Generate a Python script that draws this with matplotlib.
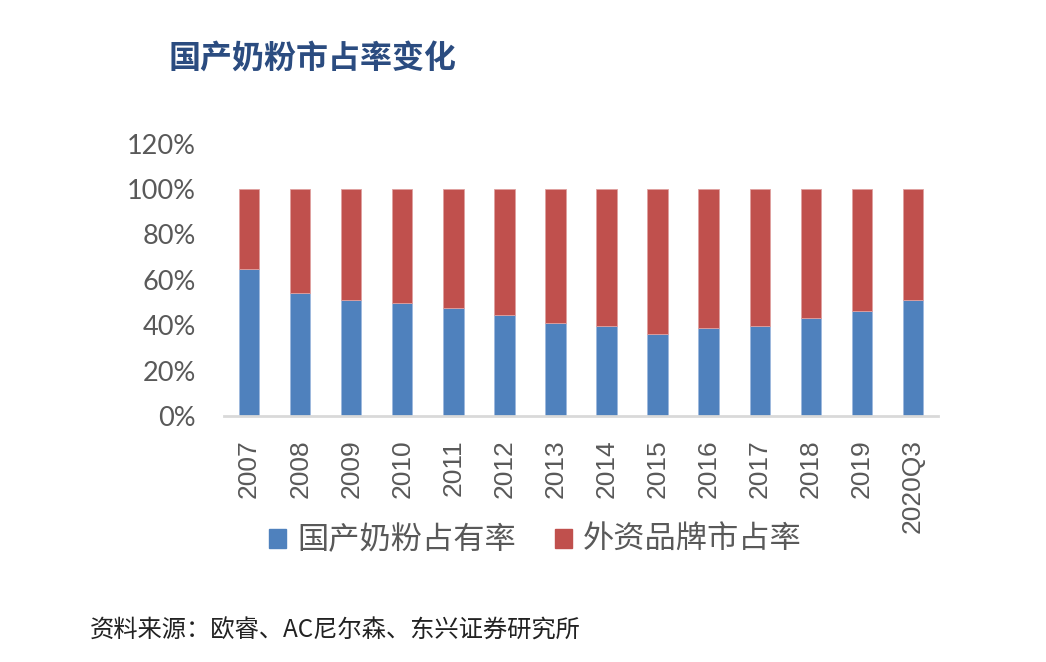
import numpy as np
import matplotlib.pyplot as plt
from matplotlib.patches import Patch

plt.rcParams['font.family'] = ['Noto Sans CJK SC', 'DejaVu Sans']

years = ["2007", "2008", "2009", "2010", "2011", "2012", "2013",
         "2014", "2015", "2016", "2017", "2018", "2019", "2020Q3"]
domestic = [64.6, 54.3, 51.0, 49.8, 47.6, 44.3, 40.8,
            39.5, 36.3, 38.6, 39.5, 43.0, 46.4, 51.0]
foreign = [100 - v for v in domestic]

blue = "#4F81BD"
red = "#C0504D"

fig = plt.figure(figsize=(10.46, 6.62), dpi=100)
ax = fig.add_axes([0.2137, 0.3716, 0.6835, 0.4115])

x = np.arange(len(years))
ax.bar(x, domestic, width=0.4, color=blue, edgecolor="#9DB9DD", linewidth=0.6)
ax.bar(x, foreign, width=0.4, bottom=domestic, color=red, edgecolor="#E0A0A0", linewidth=0.6)

ax.set_xlim(-0.5, len(years) - 0.5)
ax.set_ylim(0, 120)
ax.set_yticks(range(0, 121, 20))
ax.set_yticklabels([f"{v}%" for v in range(0, 121, 20)], fontfamily="Lato", fontsize=19.5)
ax.set_xticks(x)
ax.set_xticklabels(years, rotation=90, fontfamily="Liberation Sans", fontsize=19)
ax.tick_params(axis="both", length=0, colors="#595959")
ax.tick_params(axis="y", pad=20)
ax.tick_params(axis="x", pad=17)

for s in ["top", "right", "left"]:
    ax.spines[s].set_visible(False)
ax.spines["bottom"].set_color("#D9D9D9")
ax.spines["bottom"].set_linewidth(2)

fig.text(0.161, 0.912, "国产奶粉市占率变化", fontsize=23, fontweight="bold",
         color="#2B4C80", ha="left", va="center")

handles = [Patch(color=blue), Patch(color=red)]
fig.legend(handles, ["国产奶粉占有率", "外资品牌市占率"], loc="center",
           bbox_to_anchor=(0.512, 0.184), ncol=2, frameon=False,
           fontsize=22.5, handlelength=0.55, handleheight=0.55,
           handletextpad=0.35, columnspacing=1.25, labelcolor="#595959")

fig.text(0.086, 0.048, "资料来源：欧睿、AC尼尔森、东兴证券研究所", fontsize=17.5,
         style="italic", color="#222222", ha="left", va="center")

fig.savefig("out.png", dpi=100)
